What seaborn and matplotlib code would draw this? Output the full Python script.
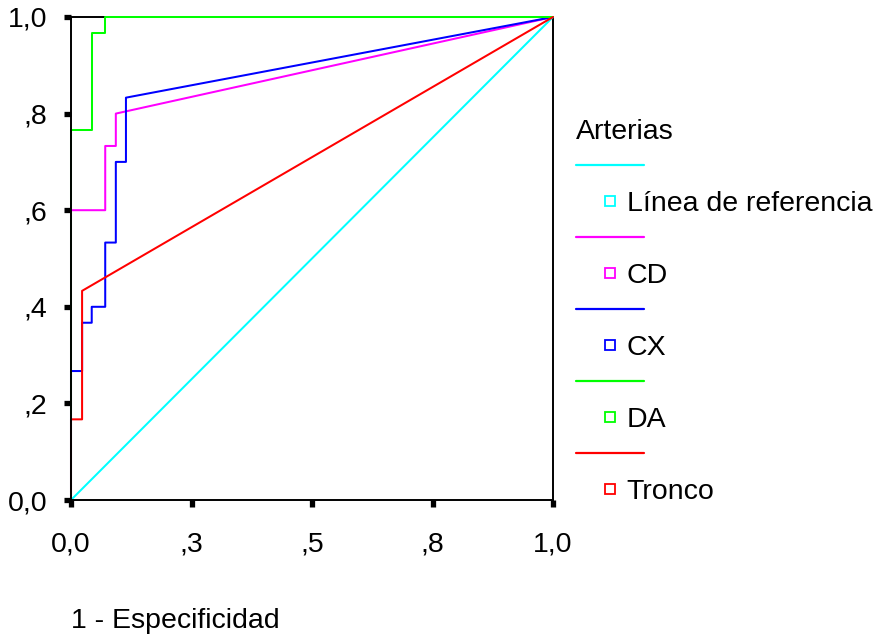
import numpy as np
import pandas as pd
import matplotlib
matplotlib.use("Agg")
import matplotlib.pyplot as plt
from matplotlib.lines import Line2D
import seaborn as sns

# ROC curves (1 - especificidad, sensibilidad)
series_names = ["Línea de referencia", "CD", "CX", "DA", "Tronco"]
series_colors = ["#00FFFF", "#FF00FF", "#0000FF", "#00FF00", "#FF0000"]

ref_fpr = [0.0, 1.0]
ref_tpr = [0.0, 1.0]

cd_fpr = [0.0, 0.0, 0.071, 0.071, 0.093, 0.093, 1.0]
cd_tpr = [0.0, 0.600, 0.600, 0.733, 0.733, 0.800, 1.0]

cx_fpr = [0.0, 0.0, 0.023, 0.023, 0.043, 0.043, 0.071, 0.071, 0.093, 0.093, 0.114, 0.114, 1.0]
cx_tpr = [0.0, 0.267, 0.267, 0.367, 0.367, 0.400, 0.400, 0.533, 0.533, 0.700, 0.700, 0.833, 1.0]

da_fpr = [0.0, 0.0, 0.043, 0.043, 0.071, 0.071, 1.0]
da_tpr = [0.0, 0.767, 0.767, 0.967, 0.967, 1.0, 1.0]

tronco_fpr = [0.0, 0.0, 0.023, 0.023, 1.0]
tronco_tpr = [0.0, 0.167, 0.167, 0.433, 1.0]

x_ticks = [0.0, 0.25, 0.5, 0.75, 1.0]
x_ticklabels = ["0,0", ",3", ",5", ",8", "1,0"]
y_ticks = [0.0, 0.2, 0.4, 0.6, 0.8, 1.0]
y_ticklabels = ["0,0", ",2", ",4", ",6", ",8", "1,0"]

sns.set_theme(style="white")
plt.rcParams["font.family"] = ["Liberation Sans", "DejaVu Sans"]
plt.rcParams["text.color"] = "black"
FS = 20.5

curves = [(ref_fpr, ref_tpr), (cd_fpr, cd_tpr), (cx_fpr, cx_tpr),
          (da_fpr, da_tpr), (tronco_fpr, tronco_tpr)]
frames = []
for name, (fpr, tpr) in zip(series_names, curves):
    frames.append(pd.DataFrame({"fpr": fpr, "tpr": tpr, "serie": name,
                                "orden": np.arange(len(fpr))}))
df = pd.concat(frames, ignore_index=True)
palette = dict(zip(series_names, series_colors))

fig = plt.figure(figsize=(8.77, 6.34), dpi=100)
ax = fig.add_axes([71 / 877, 134 / 634, 482 / 877, 483 / 634])

sns.lineplot(data=df, x="fpr", y="tpr", hue="serie", units="serie",
             palette=palette, hue_order=series_names,
             estimator=None, sort=False, linewidth=1.45, legend=False, ax=ax)
for line in ax.get_lines():
    line.set_clip_on(False)
    line.set_zorder(3)

ax.set_xlim(0, 1)
ax.set_ylim(0, 1)
ax.set_xticks(x_ticks)
ax.set_xticklabels(x_ticklabels)
ax.set_yticks(y_ticks)
ax.set_yticklabels(y_ticklabels)
ax.tick_params(axis="both", direction="out", length=5, width=3.8, color="black",
               labelsize=FS, labelcolor="black", bottom=True, left=True)
ax.tick_params(axis="x", pad=18)
ax.tick_params(axis="y", pad=12)

for side, sp in ax.spines.items():
    sp.set_color("black")
    sp.set_linewidth(1.4)
ax.spines["top"].set_zorder(2)
ax.spines["left"].set_zorder(4)
ax.spines["bottom"].set_zorder(4)

ax.set_xlabel("1 - Especificidad", fontsize=FS, loc="left", labelpad=36, color="black")
ax.set_ylabel("")

# SPSS-style legend: line on one row, square marker + label on the next
handles, labels = [], []
for name, color in zip(series_names, series_colors):
    handles.append(Line2D([], [], color=color, lw=1.6))
    labels.append("")
    handles.append(Line2D([], [], color=color, marker="s", linestyle="none",
                          markersize=7.5, markerfacecolor="white", markeredgewidth=1.3))
    labels.append(name)

leg = fig.legend(handles, labels, loc="upper left", bbox_to_anchor=(576 / 877, 1 - 119 / 634),
                 frameon=False, fontsize=FS, title="Arterias", title_fontsize=FS,
                 alignment="left", handlelength=2.38, handletextpad=-0.6,
                 labelspacing=0.35, borderpad=0, borderaxespad=0, labelcolor="black")
leg.get_title().set_color("black")

fig.savefig("out.png", dpi=100)
plt.close(fig)
